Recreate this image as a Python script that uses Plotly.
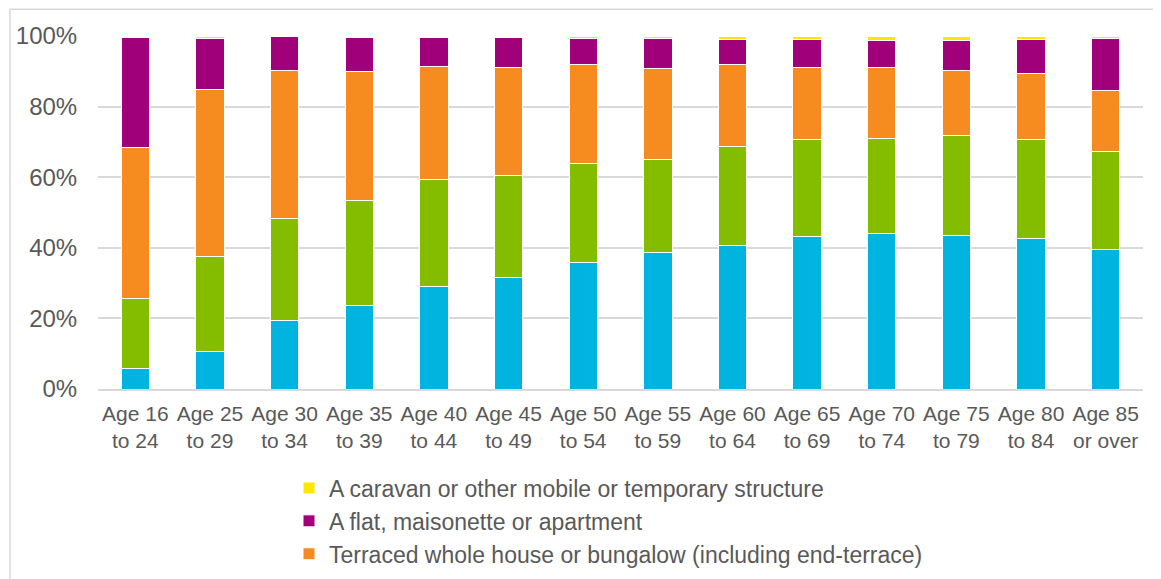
import plotly.graph_objects as go

categories = ["Age 16<br>to 24", "Age 25<br>to 29", "Age 30<br>to 34", "Age 35<br>to 39",
              "Age 40<br>to 44", "Age 45<br>to 49", "Age 50<br>to 54", "Age 55<br>to 59",
              "Age 60<br>to 64", "Age 65<br>to 69", "Age 70<br>to 74", "Age 75<br>to 79",
              "Age 80<br>to 84", "Age 85<br>or over"]

detached = [5.8, 10.5, 19.3, 23.7, 29.1, 31.6, 35.7, 38.8, 40.6, 43.3, 44.0, 43.6, 42.5, 39.6]
semi_detached = [19.8, 26.9, 28.9, 29.7, 30.3, 28.9, 28.2, 26.2, 28.2, 27.4, 27.1, 28.2, 28.1, 27.6]
terraced = [42.7, 47.5, 41.9, 36.6, 32.0, 30.6, 28.0, 25.9, 23.0, 20.4, 20.0, 18.5, 18.8, 17.4]
flat = [31.4, 14.5, 9.8, 9.7, 8.3, 8.5, 7.4, 8.4, 7.3, 7.9, 7.7, 8.5, 9.6, 14.8]
caravan = [0.3, 0.6, 0.1, 0.3, 0.3, 0.4, 0.7, 0.7, 0.9, 1.0, 1.2, 1.2, 1.0, 0.6]

series = [
    ("Detached whole house or bungalow", detached, "#00B4E0", False),
    ("Semi-detached whole house or bungalow", semi_detached, "#84BD00", False),
    ("Terraced whole house or bungalow (including end-terrace)", terraced, "#F68B20", True),
    ("A flat, maisonette or apartment", flat, "#A0007A", True),
    ("A caravan or other mobile or temporary structure", caravan, "#FFE500", True),
]

FONT = "Liberation Sans, Arial, sans-serif"
TXT = "#595959"

# the page body adds an 8px offset; figure coordinates are page coordinates minus 8
OFF = 8
W, H = 1161, 579
L, T = 98 - OFF, 36 - OFF
PLOT_R, PLOT_B = 1143 - OFF, 389 - OFF
R, B = W - PLOT_R, H - PLOT_B
PW, PH = W - L - R, H - T - B

fig = go.Figure()
for name, vals, color, show in series:
    fig.add_trace(go.Bar(
        x=categories, y=[v / 100 for v in vals], name=name,
        marker=dict(color=color, line=dict(color="white", width=1)),
        showlegend=show,
    ))

fig.update_layout(
    barmode="stack",
    bargap=0.62,
    width=W, height=H,
    margin=dict(l=L, r=R, t=T, b=B, autoexpand=False),
    paper_bgcolor="white", plot_bgcolor="white",
    font=dict(family=FONT, color=TXT, size=20),
    legend=dict(
        orientation="v", traceorder="reversed",
        xref="paper", yref="container",
        x=(281 - L) / PW, y=(H - 458.5) / H, xanchor="left", yanchor="top",
        font=dict(family=FONT, color=TXT, size=23),
        bgcolor="rgba(0,0,0,0)", itemclick=False,
    ),
    xaxis=dict(
        showgrid=False, showline=True, linecolor="#D9D9D9", linewidth=1.5,
        ticks="outside", ticklen=5, tickcolor="rgba(0,0,0,0)",
        tickfont=dict(family=FONT, color=TXT, size=21),
    ),
    yaxis=dict(
        range=[0, 1], tickformat=".0%", dtick=0.2,
        showgrid=True, gridcolor="#D9D9D9", gridwidth=1.5,
        zeroline=False, showline=False,
        ticks="outside", ticklen=15, tickcolor="rgba(0,0,0,0)",
        tickfont=dict(family=FONT, color=TXT, size=24),
    ),
    shapes=[dict(
        type="rect", xref="paper", yref="paper",
        x0=(10 - OFF - L) / PW, x1=1.2, y0=-0.9, y1=1 + (T - (9.3 - OFF)) / PH,
        line=dict(color="#D9D9D9", width=1.5), fillcolor="rgba(0,0,0,0)", layer="below",
    )],
)

fig.write_html("out.html")
